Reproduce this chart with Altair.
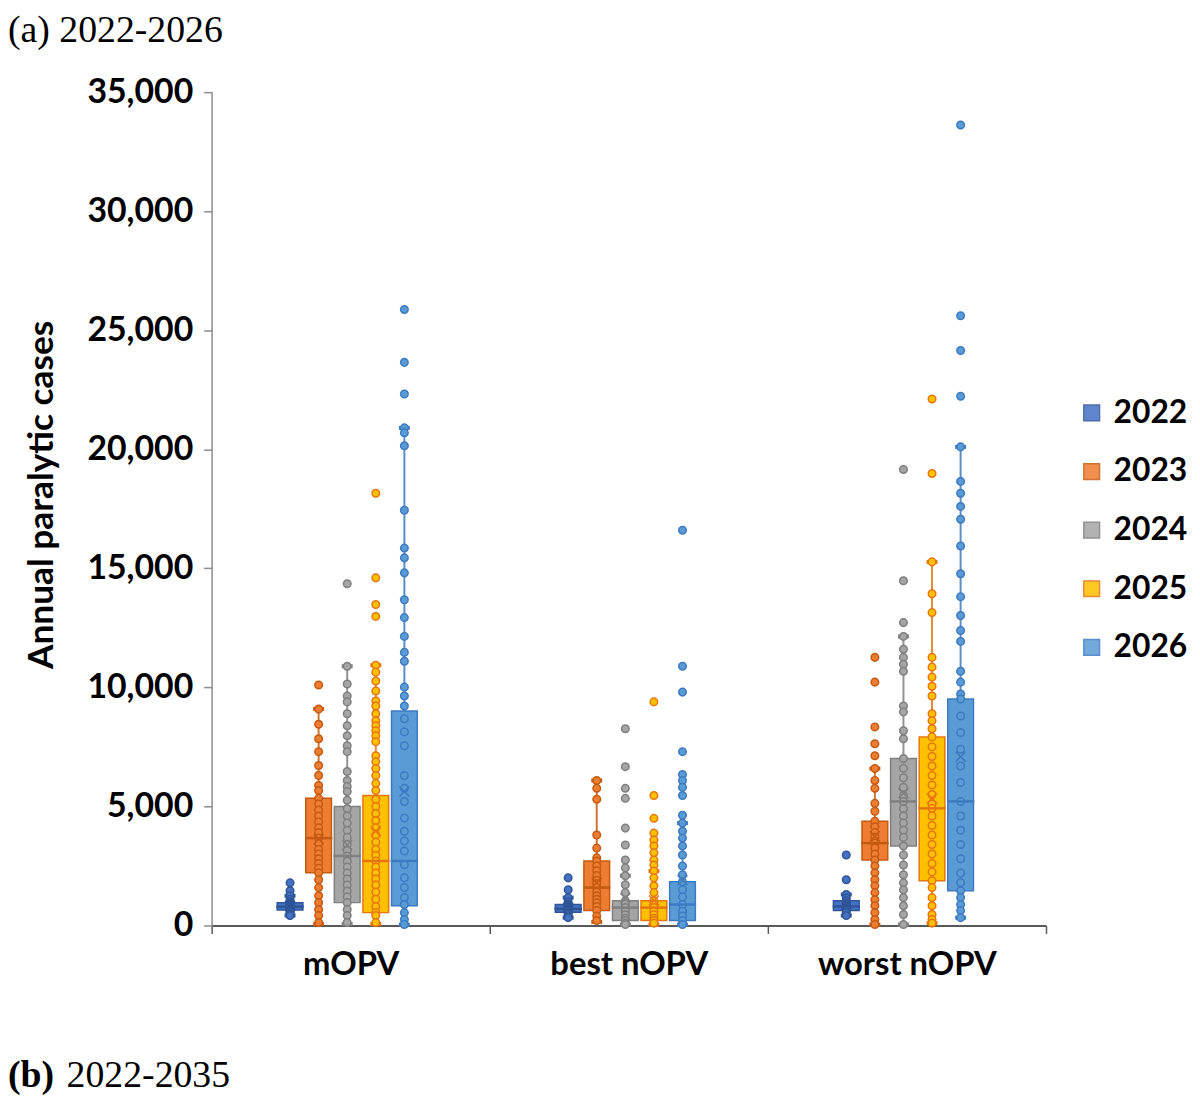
import altair as alt
import pandas as pd

categories = ["mOPV", "best nOPV", "worst nOPV"]
years = ["2022", "2023", "2024", "2025", "2026"]

fill_colors = ["#4472C4", "#ED7D31", "#A5A5A5", "#FFC000", "#5B9BD5"]
dark_colors = ["#2F5597", "#C55A11", "#7F7F7F", "#E5760F", "#3C7BC0"]

# ---- individual simulated outcomes (annual paralytic cases) ----
mopv_2022 = [1790, 1460, 1250, 1100, 1000, 950, 900, 870, 840, 800, 780, 760, 740, 720, 700, 680, 650, 600, 540, 480, 420]
mopv_2023 = [10100, 9090, 8450, 7840, 7300, 6720, 6300, 5880, 5670, 5340, 5100, 4850, 4600, 4350, 4100, 3900, 3670,
             3450, 3200, 3000, 2800, 2600, 2400, 2210, 1920, 1590, 1250, 960, 670, 420, 125]
mopv_2024 = [14350, 10890, 10140, 9640, 9390, 8890, 8390, 7970, 7550, 7300, 6470, 6090, 5840, 5630, 5260, 4900, 4600,
             4300, 4000, 3700, 3400, 3150, 2920, 2700, 2450, 2200, 1950, 1700, 1450, 1200, 960, 670, 420, 125]
mopv_2025 = [18150, 14600, 13480, 12980, 10930, 10640, 10270, 9850, 9430, 9220, 8890, 8600, 8390, 8180, 7970, 7720,
             7130, 6880, 6590, 6300, 5970, 5670, 5300, 5000, 4700, 4400, 4100, 3800, 3500, 3200, 2950, 2710, 2450,
             2200, 1950, 1700, 1400, 1100, 800, 540, 420, 125]
mopv_2026 = [25870, 23650, 22320, 20900, 20690, 20150, 17440, 15850, 15440, 14810, 13680, 12930, 12140, 11470, 11100,
             10010, 9640, 9220, 8680, 8130, 7550, 6300, 5760, 5210, 4510, 3960, 3550, 3130, 2550, 2000, 1590, 1170,
             880, 540, 250, 40]

best_2022 = [2000, 1500, 1170, 1000, 900, 850, 800, 760, 720, 700, 680, 640, 600, 560, 500, 420, 330]
best_2023 = [6090, 5760, 5300, 3800, 3250, 2840, 2710, 2500, 2300, 2100, 1900, 1750, 1590, 1400, 1250, 1100, 950,
             800, 625, 400, 210]
best_2024 = [8260, 6670, 5760, 5340, 4090, 3380, 2750, 2420, 2090, 1710, 1380, 1040, 900, 750, 600, 450, 300, 210,
             100, 40]
best_2025 = [9390, 5460, 4500, 3880, 3590, 3340, 3050, 2750, 2540, 2290, 2000, 1670, 1380, 1040, 900, 750, 600, 450,
             300, 210, 100]
best_2026 = [16600, 10890, 9800, 7300, 6340, 6090, 5800, 5460, 4630, 4300, 3960, 3670, 3340, 2960, 2500, 2130, 1840,
             1500, 1200, 880, 600, 400, 210, 40]

worst_2022 = [2960, 1920, 1300, 1150, 1040, 950, 880, 820, 780, 740, 700, 660, 625, 540, 420]
worst_2023 = [11260, 10220, 8340, 7630, 7130, 6590, 6090, 5760, 5130, 4800, 4380, 4150, 3900, 3700, 3460, 3250, 3000,
              2750, 2500, 2210, 1920, 1670, 1380, 1080, 830, 540, 250, 40]
worst_2024 = [19150, 14480, 12720, 12140, 11600, 11260, 10970, 10680, 9220, 8970, 8180, 7840, 7010, 6600, 6200, 5800,
              5450, 5210, 4900, 4600, 4300, 4000, 3700, 3340, 2960, 2540, 2130, 1790, 1500, 1170, 830, 460, 40]
worst_2025 = [22110, 18980, 15270, 13930, 13140, 11260, 10850, 10430, 10050, 9640, 8890, 8600, 8260, 7920, 7500, 7100,
              6700, 6300, 5900, 5500, 5100, 4920, 4600, 4200, 3800, 3400, 3000, 2600, 2250, 1880, 1590, 1170, 830,
              460, 250, 100]
worst_2026 = [33620, 25610, 24150, 22230, 20100, 18650, 18150, 17600, 17060, 15940, 14770, 13810, 13020, 12390, 11930,
              10680, 10220, 9720, 9510, 8800, 8100, 7400, 6700, 6000, 5210, 4600, 4000, 3400, 2800, 2200, 1800, 1460,
              1170, 880, 625, 330]

# ---- box statistics (category-major, year-minor) ----
box_q1 = [650, 2210, 960, 540, 830,
          560, 625, 210, 210, 210,
          625, 2750, 3340, 1880, 1460]
box_median = [790, 3670, 2920, 2710, 2710,
              700, 1590, 750, 750, 880,
              800, 3460, 5210, 4920, 5210]
box_q3 = [950, 5340, 5000, 5460, 9010,
          880, 2710, 1040, 1040, 1840,
          1040, 4380, 7010, 7920, 9510]
box_mean = [830, 3620, 3380, 3960, 5630,
            740, 1800, 1150, 1050, 1900,
            850, 3750, 5550, 5340, 7090]
whisker_low = [420, 60, 60, 60, 40,
               330, 150, 40, 40, 40,
               420, 40, 40, 100, 330]
whisker_high = [1250, 9090, 10890, 10930, 20900,
                1170, 6090, 2090, 2290, 4300,
                1300, 6590, 12140, 15270, 20100]

point_lists = [
    [mopv_2022, mopv_2023, mopv_2024, mopv_2025, mopv_2026],
    [best_2022, best_2023, best_2024, best_2025, best_2026],
    [worst_2022, worst_2023, worst_2024, worst_2025, worst_2026],
]
rows = []
for cat, lists in zip(categories, point_lists):
    for yr, vals in zip(years, lists):
        for v in vals:
            rows.append({"category": cat, "year": yr, "value": v})
points_df = pd.DataFrame(rows)

stats_df = pd.DataFrame({
    "category": [c for c in categories for _ in years],
    "year": years * len(categories),
    "q1": box_q1, "median": box_median, "q3": box_q3,
    "mean": box_mean, "lo": whisker_low, "hi": whisker_high,
})

FONT = "Lato"
y_axis = alt.Axis(values=list(range(0, 35001, 5000)), labelExpr="format(datum.value, ',')",
                  labelFont=FONT, labelFontSize=34,
                  labelFontWeight="bold", labelColor="black", tickSize=8, tickColor="#8c8c8c",
                  domainColor="#8c8c8c", domainWidth=1.5, tickWidth=1.5, grid=False, labelPadding=11,
                  title="Annual paralytic cases", titleFont=FONT, titleFontSize=35.5, titleFontWeight="bold",
                  titleColor="black", titlePadding=28, titleY=405)
x_axis = alt.Axis(labelFont=FONT, labelFontSize=33, labelFontWeight="bold", labelColor="black",
                  labelLimit=0, tickBand="extent", tickSize=8, domainColor="#595959", domainWidth=2,
                  tickColor="#595959", tickWidth=1.5, labelPadding=15, labelAngle=0, title=None, grid=False)
yscale = alt.Scale(domain=[0, 35000], nice=False, zero=True)

X = alt.X("category:N", sort=categories, scale=alt.Scale(paddingInner=0, paddingOuter=0), axis=x_axis)
XO = alt.XOffset("year:N", sort=years, scale=alt.Scale(paddingInner=0.1, paddingOuter=0, range=[66, 207]))

legend = alt.Legend(title=None, orient="none", legendX=870, legendY=307, symbolType="square",
                    symbolSize=250, labelFont=FONT, labelFontSize=32, labelFontWeight="bold",
                    labelColor="black", rowPadding=27, symbolStrokeWidth=1.5, labelOffset=6, padding=0,
                    labelLimit=0)
FILL = alt.Fill("year:N", sort=years, scale=alt.Scale(domain=years, range=fill_colors), legend=legend)
STROKE = alt.Stroke("year:N", sort=years, scale=alt.Scale(domain=years, range=dark_colors), legend=legend)


def Y(field):
    return alt.Y(f"{field}:Q", scale=yscale, axis=y_axis)


stats = alt.Chart(stats_df)

whiskers = stats.mark_rule(strokeWidth=2, opacity=0.85).encode(
    x=X, xOffset=XO, y=Y("lo"), y2="hi", stroke=STROKE)
cap_hi = stats.mark_tick(size=9, thickness=2, opacity=1, filled=False, strokeWidth=2).encode(
    x=X, xOffset=XO, y=Y("hi"), stroke=STROKE)
cap_lo = stats.mark_tick(size=9, thickness=2, opacity=1, filled=False, strokeWidth=2).encode(
    x=X, xOffset=XO, y=Y("lo"), stroke=STROKE)
boxes = stats.mark_bar(strokeWidth=1.5).encode(
    x=X, xOffset=XO, y=Y("q3"), y2="q1", fill=FILL, stroke=STROKE)
pts = alt.Chart(points_df).mark_point(filled=True, size=58, strokeWidth=1.5, opacity=1).encode(
    x=X, xOffset=XO, y=Y("value"), fill=FILL, stroke=STROKE)
medians = stats.mark_tick(size=26, thickness=1, opacity=1, filled=False, strokeWidth=1.5).encode(
    x=X, xOffset=XO, y=Y("median"), stroke=STROKE)
means = stats.mark_point(shape="M-1,-1L1,1M-1,1L1,-1", size=100, filled=False, strokeWidth=1.5,
                         opacity=1).encode(x=X, xOffset=XO, y=Y("mean"), stroke=STROKE)

title_a = alt.Chart(pd.DataFrame({"t": ["(a) 2022-2026"]})).mark_text(
    font="Liberation Serif", fontSize=38, align="left", baseline="alphabetic", color="black"
).encode(text="t:N", x=alt.value(-205), y=alt.value(-50))
title_b1 = alt.Chart(pd.DataFrame({"t": ["(b)"]})).mark_text(
    font="Liberation Serif", fontSize=38, fontWeight="bold", align="left", baseline="alphabetic", color="black"
).encode(text="t:N", x=alt.value(-205), y=alt.value(1002))
title_b2 = alt.Chart(pd.DataFrame({"t": ["2022-2035"]})).mark_text(
    font="Liberation Serif", fontSize=38, align="left", baseline="alphabetic", color="black"
).encode(text="t:N", x=alt.value(-146), y=alt.value(1002))

chart = alt.layer(whiskers, cap_hi, cap_lo, boxes, pts, medians, means, title_a, title_b1, title_b2).properties(
    width=840, height=839, autosize="none",
    padding={"left": 205, "top": 81, "right": 147, "bottom": 170},
).configure(background="white").configure_view(stroke=None)

chart.save("out.html", embed_options={"renderer": "svg", "actions": False})
